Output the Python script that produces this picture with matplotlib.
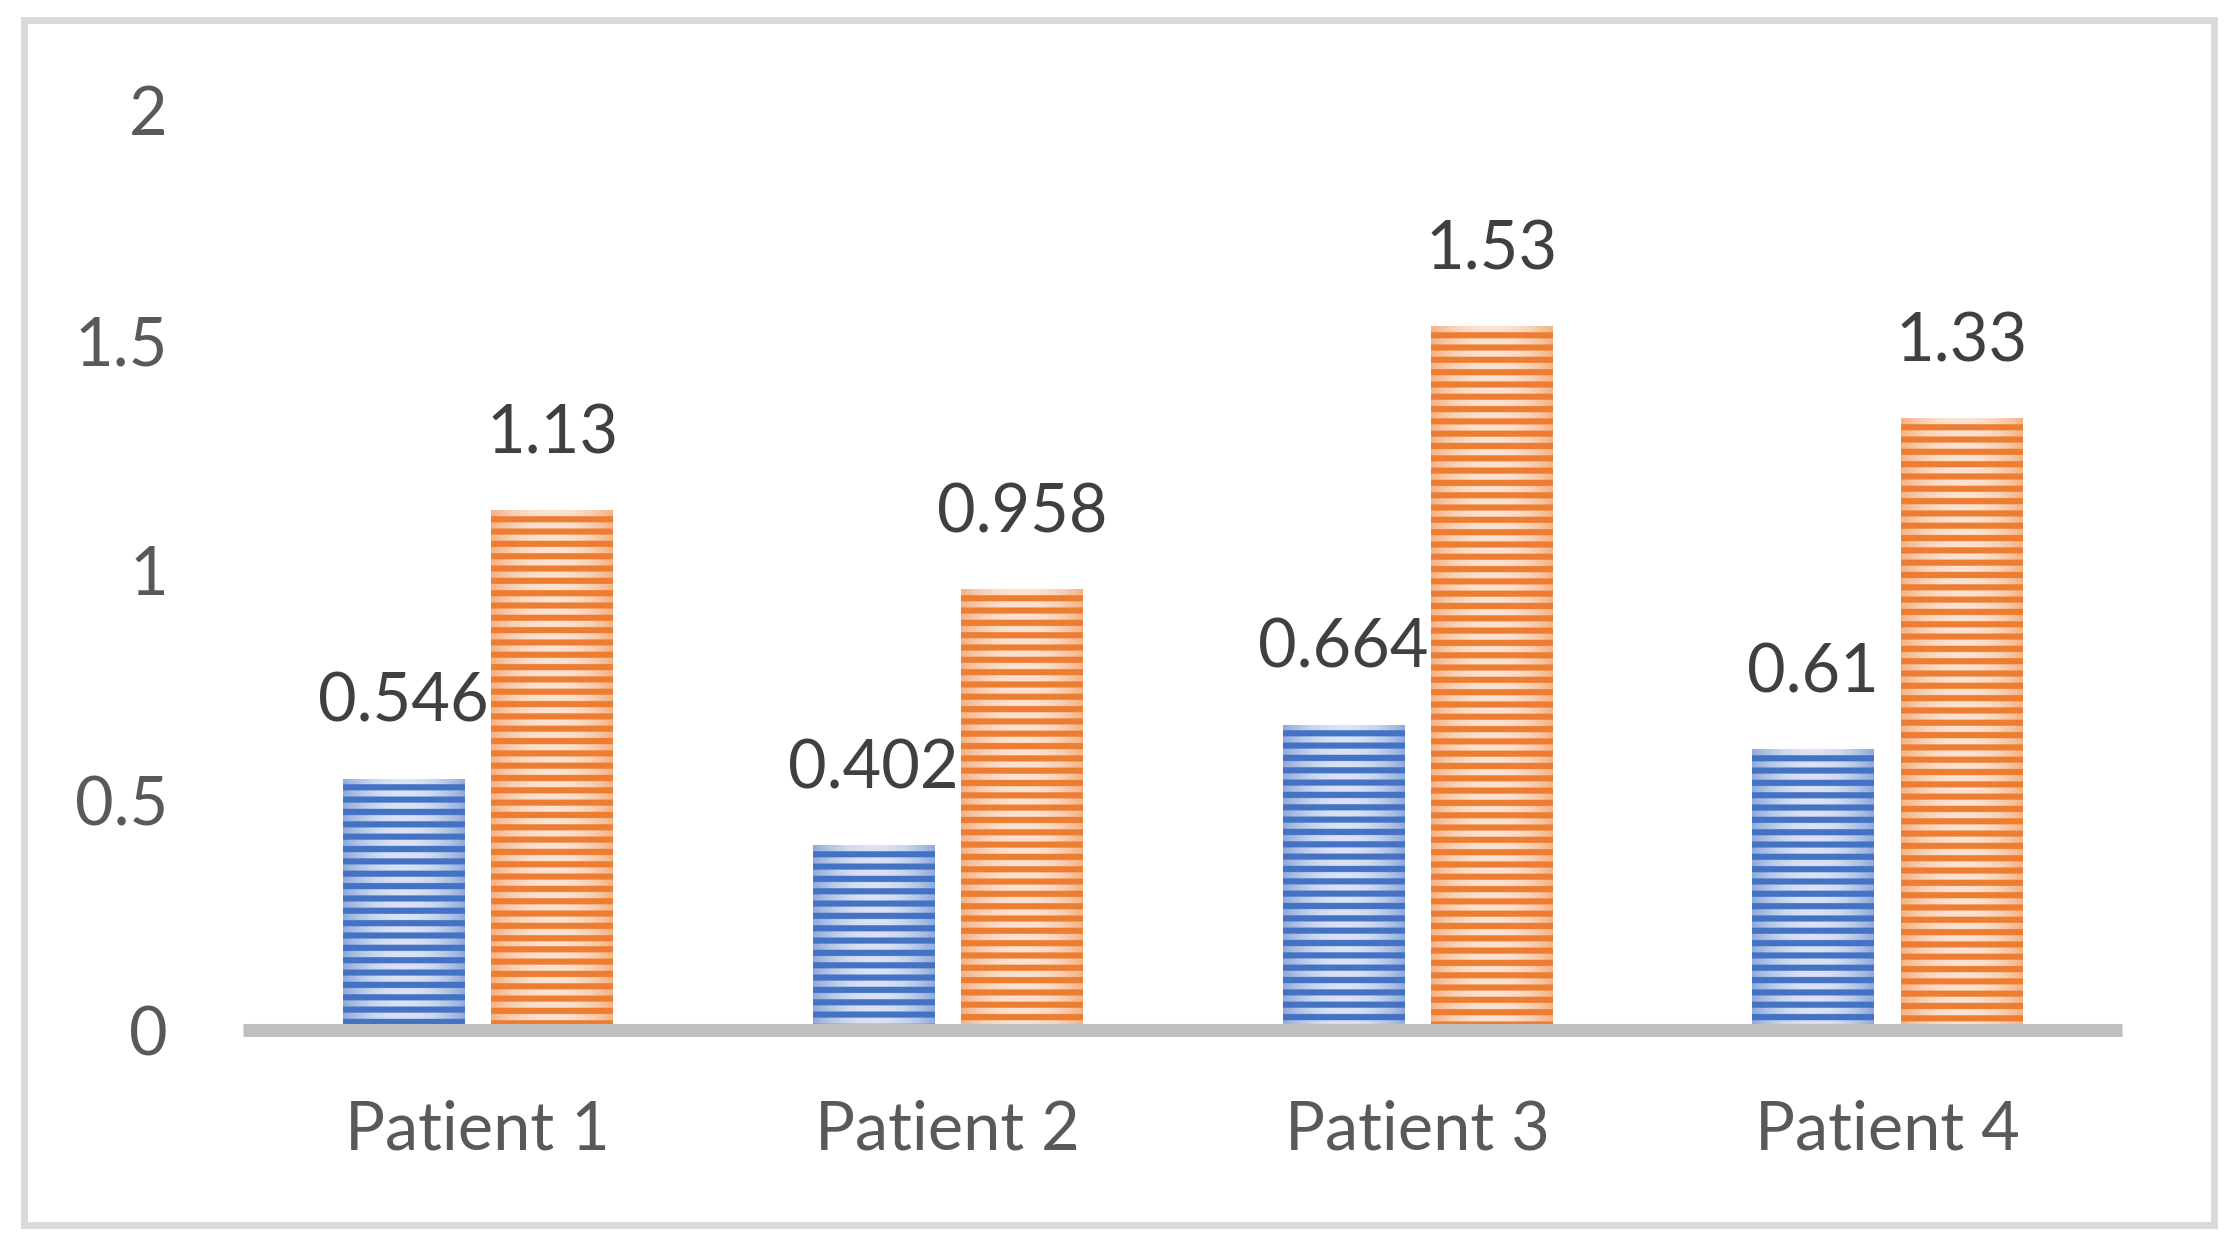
import numpy as np
import matplotlib
matplotlib.use("Agg")
import matplotlib.pyplot as plt
from matplotlib.patches import Rectangle

patients = ["Patient 1", "Patient 2", "Patient 3", "Patient 4"]
blue_vals = [0.546, 0.402, 0.664, 0.61]
orange_vals = [1.13, 0.958, 1.53, 1.33]
yticks = [0, 0.5, 1, 1.5, 2]
ytick_labels = ["0", "0.5", "1", "1.5", "2"]

plt.rcParams['font.family'] = ['Lato', 'DejaVu Sans']

W, H = 2237, 1247
fig = plt.figure(figsize=(W / 100, H / 100), dpi=100)
ax = fig.add_axes([243 / W, (H - 1030) / H, (2122 - 243) / W, 920 / H])

x = np.arange(len(patients))
bw = 0.258
off = 0.158

# stripe period in data units (~12.3 px at 460 px per unit)
period = 12.3 / 460.0


def striped_fill(bar, dark, light_mid, light_edge):
    x0, y0 = bar.get_x(), bar.get_y()
    w, h = bar.get_width(), bar.get_height()
    nrows = max(int(h / period * 10), 10)
    ncols = 120
    yy = (np.arange(nrows) + 0.5) / nrows * h
    xx = (np.arange(ncols) + 0.5) / ncols
    # distance from centre across the bar
    d = np.abs(xx - 0.5) * 2
    light = (np.array(light_mid)[None, :] * (1 - d[:, None] ** 2)
             + np.array(light_edge)[None, :] * d[:, None] ** 2)
    phase = ((h - yy) % period) / period
    is_dark = phase > 0.5
    img = np.empty((nrows, ncols, 3))
    img[:] = light[None, :, :]
    img[is_dark] = np.array(dark)
    img = img[::-1]  # row 0 at top
    im = ax.imshow(img, extent=(x0, x0 + w, y0, y0 + h), aspect='auto',
                   interpolation='bilinear', zorder=2)
    im.set_clip_path(bar)


def hex2rgb(c):
    return [int(c[i:i + 2], 16) / 255 for i in (1, 3, 5)]


bars_b = ax.bar(x - off, blue_vals, bw, color="#4472C4", edgecolor='none', zorder=1)
bars_o = ax.bar(x + off, orange_vals, bw, color="#ED7D31", edgecolor='none', zorder=1)

for b in bars_b:
    striped_fill(b, hex2rgb("#4472C4"), hex2rgb("#DAE3F3"), hex2rgb("#8EA9DB"))
for b in bars_o:
    striped_fill(b, hex2rgb("#ED7D31"), hex2rgb("#FBE3D3"), hex2rgb("#F4B183"))

for bars, vals in [(bars_b, blue_vals), (bars_o, orange_vals)]:
    for b, v in zip(bars, vals):
        ax.annotate(str(v), (b.get_x() + b.get_width() / 2, v),
                    xytext=(0, 41), textcoords='offset points',
                    ha='center', va='baseline', fontsize=48, color='#404040')

ax.set_xlim(-0.5, len(patients) - 0.5)
ax.set_ylim(0, 2)
ax.set_xticks(x)
ax.set_xticklabels(patients)
ax.set_yticks(yticks)
ax.set_yticklabels(ytick_labels)
ax.tick_params(axis='both', length=0, labelsize=48, labelcolor='#595959')
ax.tick_params(axis='y', pad=54)
ax.tick_params(axis='x', pad=50)

for s in ['top', 'right', 'left']:
    ax.spines[s].set_visible(False)
ax.spines['bottom'].set_color('#BFBFBF')
ax.spines['bottom'].set_linewidth(9.4)
ax.spines['bottom'].set_zorder(3)
ax.spines['bottom'].set_capstyle('butt')

# outer chart border
fig.patches.append(Rectangle((23.5 / W, (H - 1224.5) / H), (2213.5 - 23.5) / W, (1224.5 - 19.5) / H,
                             transform=fig.transFigure, fill=False,
                             edgecolor='#D9D9D9', linewidth=5))

fig.savefig("out.png", dpi=100)
